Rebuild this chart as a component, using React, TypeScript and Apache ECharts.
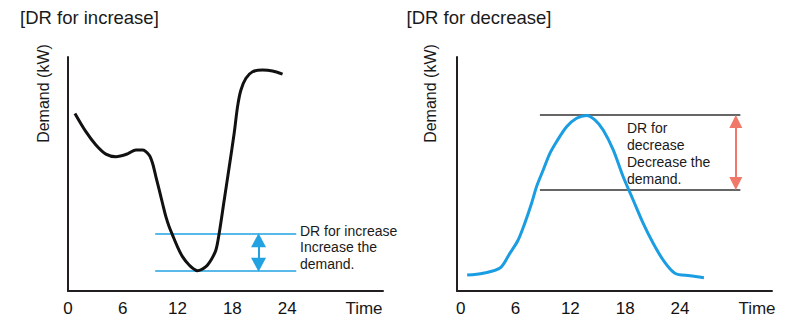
import React, { useEffect, useRef } from "react";
import * as echarts from "echarts";

// ---- data (hours, relative demand 0-100) ----
const xTicks = [0, 6, 12, 18, 24];

const incHours = [0.76, 1.96, 3.06, 4.15, 5.25, 6.52, 7.44, 8.16, 8.89, 9.26, 9.63, 9.99, 10.35, 10.72, 11.08, 11.45, 11.99, 12.54, 13.27, 14.18, 15.1, 15.7, 16.2, 16.56, 17.11, 17.66, 18.2, 18.57, 18.94, 19.49, 20.21, 21.3, 22.4, 23.5];
const incDemand = [75.9, 68.1, 62.4, 58.5, 57.4, 58.6, 60.3, 60.3, 58.1, 54.6, 48.8, 43.2, 37.5, 31.8, 27.5, 23.9, 18.9, 14.7, 11.1, 8.7, 10.4, 13.5, 17.5, 24.7, 38.9, 53.1, 67.4, 78.8, 85.9, 90.9, 93.7, 94.4, 94.0, 92.7];

const decHours = [0.71, 2.46, 4.3, 5.38, 6.29, 7.02, 7.76, 8.3, 9.03, 9.76, 10.49, 11.59, 12.68, 13.77, 14.68, 15.59, 16.69, 17.78, 18.87, 19.97, 21.06, 22.16, 23.44, 25.08, 26.61];
const decDemand = [6.8, 7.6, 9.8, 16.1, 21.8, 29.0, 37.5, 44.6, 51.7, 58.8, 63.8, 70.2, 73.8, 75.0, 73.1, 68.8, 60.3, 48.8, 38.9, 28.9, 20.4, 13.2, 7.6, 6.5, 5.7];

const incBand = [8.5, 24.4]; // lower, upper demand levels
const incBandSpan = [9.55, 25.0]; // hours
const incArrow = { hour: 20.87, from: 11.2, to: 21.7 };

const decBand = [43.2, 75.2];
const decBandSpan = [8.67, 30.6];
const decArrow = { hour: 30.1, from: 45.9, to: 72.4 };

const FONT = "'Liberation Sans', Arial, Helvetica, sans-serif";
const BLUE = "#22a2e2";
const RED = "#f07868";
const AXIS = "#231f20";

function hLine(level: number, span: number[]) {
  return [
    [span[0], level],
    [span[1], level],
  ];
}

export default function App() {
  const ref = useRef<HTMLDivElement>(null);

  useEffect(() => {
    if (!ref.current) return;
    const chart = echarts.init(ref.current, null, { renderer: "svg" });

    const xAxisBase = (min: number, max: number, gridIndex: number) => ({
      type: "value",
      gridIndex,
      min,
      max,
      axisLine: { show: true, onZero: false, lineStyle: { color: AXIS, width: 2 } },
      axisTick: { show: false },
      splitLine: { show: false },
      axisLabel: {
        customValues: xTicks,
        color: "#111",
        fontSize: 17,
        fontFamily: FONT,
        margin: 9,
        showMinLabel: true,
        showMaxLabel: true,
      },
    });
    const yAxisBase = (gridIndex: number) => ({
      type: "value",
      gridIndex,
      min: 0,
      max: 100,
      axisLine: { show: true, onZero: false, lineStyle: { color: AXIS, width: 2 } },
      axisTick: { show: false },
      axisLabel: { show: false },
      splitLine: { show: false },
    });

    const arrowMark = (a: { hour: number; from: number; to: number }, color: string, size: number[]) => ({
      silent: true,
      symbol: ["triangle", "triangle"],
      symbolSize: size,
      label: { show: false },
      lineStyle: { color, width: 2, type: "solid" },
      data: [[{ coord: [a.hour, a.from] }, { coord: [a.hour, a.to] }]],
    });

    const textStyle = { fontFamily: FONT, fill: "#1a1a1a" };

    chart.setOption({
      animation: false,
      backgroundColor: "#ffffff",
      grid: [
        { left: 68, top: 57, width: 315, height: 234 },
        { left: 457, top: 57, width: 315, height: 234 },
      ],
      xAxis: [xAxisBase(0, 34.5, 0), xAxisBase(-0.4, 34.06, 1)],
      yAxis: [yAxisBase(0), yAxisBase(1)],
      series: [
        {
          type: "line",
          xAxisIndex: 0,
          yAxisIndex: 0,
          data: hLine(incBand[1], incBandSpan),
          showSymbol: false,
          lineStyle: { color: BLUE, width: 1.5 },
          markLine: arrowMark(incArrow, BLUE, [15, 14]),
        },
        {
          type: "line",
          xAxisIndex: 0,
          yAxisIndex: 0,
          data: hLine(incBand[0], incBandSpan),
          showSymbol: false,
          lineStyle: { color: BLUE, width: 1.5 },
        },
        {
          type: "line",
          xAxisIndex: 0,
          yAxisIndex: 0,
          data: incHours.map((h, i) => [h, incDemand[i]]),
          smooth: 0.3,
          showSymbol: false,
          lineStyle: { color: "#111", width: 3 },
        },
        {
          type: "line",
          xAxisIndex: 1,
          yAxisIndex: 1,
          data: hLine(decBand[1], decBandSpan),
          showSymbol: false,
          lineStyle: { color: "#333", width: 1.5 },
          markLine: arrowMark(decArrow, RED, [13, 13]),
        },
        {
          type: "line",
          xAxisIndex: 1,
          yAxisIndex: 1,
          data: hLine(decBand[0], decBandSpan),
          showSymbol: false,
          lineStyle: { color: "#333", width: 1.5 },
        },
        {
          type: "line",
          xAxisIndex: 1,
          yAxisIndex: 1,
          data: decHours.map((h, i) => [h, decDemand[i]]),
          smooth: 0.3,
          showSymbol: false,
          lineStyle: { color: "#1b9de2", width: 3 },
        },
      ],
      graphic: [
        { type: "text", x: 20, y: 17.5, style: { ...textStyle, text: "[DR for increase]", fontSize: 18.5, align: "left", verticalAlign: "middle" } },
        { type: "text", x: 406.5, y: 17.5, style: { ...textStyle, text: "[DR for decrease]", fontSize: 18.5, align: "left", verticalAlign: "middle" } },
        { type: "text", x: 43, y: 93.5, rotation: Math.PI / 2, style: { ...textStyle, text: "Demand (kW)", fontSize: 16, align: "center", verticalAlign: "middle" } },
        { type: "text", x: 430.5, y: 93.5, rotation: Math.PI / 2, style: { ...textStyle, text: "Demand (kW)", fontSize: 16, align: "center", verticalAlign: "middle" } },
        { type: "text", x: 364, y: 308, style: { ...textStyle, text: "Time", fontSize: 17, align: "center", verticalAlign: "middle" } },
        { type: "text", x: 757, y: 308, style: { ...textStyle, text: "Time", fontSize: 17, align: "center", verticalAlign: "middle" } },
        {
          type: "text",
          x: 300,
          y: 222.5,
          style: { ...textStyle, text: "DR for increase\nIncrease the\ndemand.", fontSize: 14, lineHeight: 16.5, align: "left", verticalAlign: "top" },
        },
        {
          type: "text",
          x: 627,
          y: 120,
          style: { ...textStyle, text: "DR for\ndecrease\nDecrease the\ndemand.", fontSize: 14, lineHeight: 16.9, align: "left", verticalAlign: "top" },
        },
      ],
    });

    return () => chart.dispose();
  }, []);

  return (
    <div
      ref={ref}
      style={{ position: "fixed", left: 0, top: 0, width: 803, height: 323, background: "#fff" }}
    />
  );
}
